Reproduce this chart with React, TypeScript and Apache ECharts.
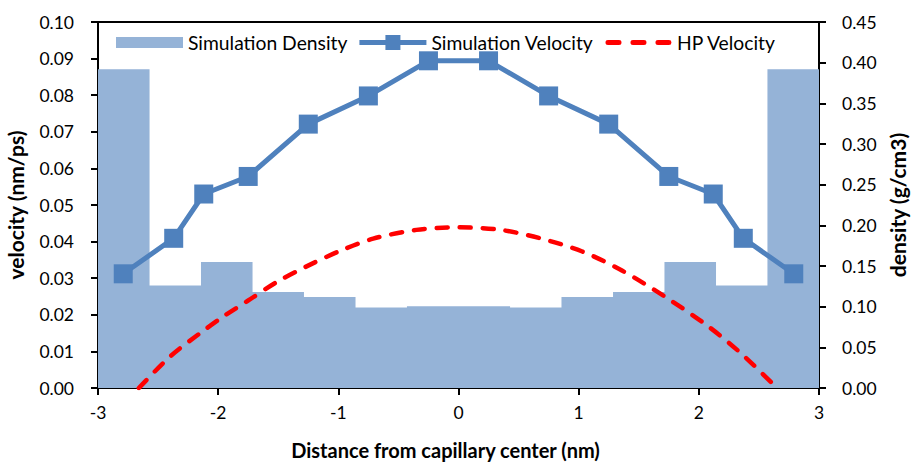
import React, { useEffect, useRef } from "react";
import * as echarts from "echarts";

// Simulation density: bins (left edge, value), last edge closes the final bin
const densityBinStart = [-3, -2.571, -2.143, -1.714, -1.286, -0.857, -0.429, 0, 0.429, 0.857, 1.286, 1.714, 2.143, 2.571];
const densityEnd = 3;
const densityValues = [0.392, 0.126, 0.155, 0.118, 0.112, 0.099, 0.1005, 0.1005, 0.099, 0.112, 0.118, 0.155, 0.126, 0.392];

// Simulation velocity
const velocityX = [-2.79, -2.37, -2.12, -1.75, -1.25, -0.75, -0.25, 0.25, 0.75, 1.25, 1.75, 2.12, 2.37, 2.79];
const velocityValues = [0.0312, 0.0409, 0.053, 0.0578, 0.0721, 0.0798, 0.0894, 0.0894, 0.0798, 0.0721, 0.0578, 0.053, 0.0409, 0.0312];

// HP velocity
const hpX = [-2.66, -2.4, -2.15, -1.95, -1.76, -1.51, -1.26, -0.99, -0.71, -0.35, 0, 0.35, 0.67, 1.03, 1.36, 1.72, 2.08, 2.36, 2.65];
const hpValues = [0, 0.0086, 0.015, 0.0197, 0.0237, 0.029, 0.0333, 0.0374, 0.0408, 0.0432, 0.0439, 0.0432, 0.041, 0.0373, 0.0321, 0.0249, 0.0168, 0.0092, 0];

const FONT = "Lato";
const BLUE = "#4F81BD";
const BAR = "#95B3D7";
const RED = "#FF0000";

export default function App() {
  const ref = useRef<HTMLDivElement>(null);
  useEffect(() => {
    if (!ref.current) return;
    const chart = echarts.init(ref.current, null, { renderer: "svg" });
    const densityData: [number, number][] = densityBinStart.map((x, i) => [x, densityValues[i]]);
    densityData.push([densityEnd, densityValues[densityValues.length - 1]]);

    const axisCommon = {
      axisLine: { show: true, onZero: false, lineStyle: { color: "#000", width: 2 } },
      axisTick: { show: true, inside: false, length: 7, lineStyle: { color: "#000", width: 2 } },
      splitLine: { show: false },
    };

    chart.setOption({
      animation: false,
      backgroundColor: "#fff",
      textStyle: { fontFamily: FONT },
      grid: {
        left: 98,
        right: 94,
        top: 22,
        bottom: 76,
        show: true,
        borderColor: "#000",
        borderWidth: 2,
        containLabel: false,
        outerBoundsMode: "none",
      },
      legend: {
        left: 111,
        top: 28,
        itemWidth: 67,
        itemHeight: 15,
        itemGap: 12,
        textStyle: { fontFamily: FONT, fontSize: 19.3, color: "#000" },
        data: [
          { name: "Simulation Density", icon: "path://M0,2 L67,2 L67,13 L0,13 Z" },
          {
            name: "Simulation Velocity",
            icon: "path://M0,5 L26,5 L26,0 L41,0 L41,5 L67,5 L67,10 L41,10 L41,15 L26,15 L26,10 L0,10 Z",
          },
          {
            name: "HP Velocity",
            icon:
              "path://M2.5,5 L13.5,5 A2.5,2.5 0 0 1 13.5,10 L2.5,10 A2.5,2.5 0 0 1 2.5,5 Z M27.5,5 L38.5,5 A2.5,2.5 0 0 1 38.5,10 L27.5,10 A2.5,2.5 0 0 1 27.5,5 Z M52.5,5 L63.5,5 A2.5,2.5 0 0 1 63.5,10 L52.5,10 A2.5,2.5 0 0 1 52.5,5 Z M0,0 L0,0.01 Z M66,15 L66,15.01 Z",
          },
        ],
      },
      xAxis: {
        type: "value",
        min: -3,
        max: 3,
        interval: 1,
        name: "Distance from capillary center (nm)",
        nameLocation: "middle",
        nameGap: 52,
        nameTextStyle: { fontFamily: FONT, fontSize: 20, fontWeight: "bold", color: "#000", padding: [0, 26, 0, 0] },
        ...axisCommon,
        axisLabel: { fontFamily: FONT, fontSize: 17.5, color: "#000", margin: 15 },
      },
      yAxis: [
        {
          type: "value",
          min: 0,
          max: 0.1,
          interval: 0.01,
          position: "left",
          name: "velocity (nm/ps)",
          nameLocation: "middle",
          nameRotate: 90,
          nameGap: 72,
          nameTextStyle: { fontFamily: FONT, fontSize: 21, fontWeight: "bold", color: "#000" },
          ...axisCommon,
          axisLabel: {
            fontFamily: FONT,
            fontSize: 17.5,
            color: "#000",
            margin: 24,
            formatter: (v: number) => v.toFixed(2),
          },
        },
        {
          type: "value",
          min: 0,
          max: 0.45,
          interval: 0.05,
          position: "right",
          name: "density (g/cm3)",
          nameLocation: "middle",
          nameRotate: 90,
          nameGap: 68,
          nameTextStyle: { fontFamily: FONT, fontSize: 21, fontWeight: "bold", color: "#000" },
          ...axisCommon,
          axisLabel: {
            fontFamily: FONT,
            fontSize: 17.5,
            color: "#000",
            margin: 23,
            formatter: (v: number) => v.toFixed(2),
          },
        },
      ],
      series: [
        {
          name: "Simulation Density",
          type: "line",
          yAxisIndex: 1,
          step: "end",
          data: densityData,
          symbol: "none",
          color: BAR,
          itemStyle: { color: BAR },
          lineStyle: { width: 0, color: BAR },
          areaStyle: { color: BAR, opacity: 1 },
          z: 1,
        },
        {
          name: "HP Velocity",
          type: "line",
          yAxisIndex: 0,
          data: hpX.map((x, i) => [x, hpValues[i]]),
          smooth: 0.3,
          symbol: "none",
          color: RED,
          itemStyle: { color: RED },
          lineStyle: { color: RED, width: 4.5, type: [11, 12], cap: "round" },
          z: 2,
        },
        {
          name: "Simulation Velocity",
          type: "line",
          yAxisIndex: 0,
          data: velocityX.map((x, i) => [x, velocityValues[i]]),
          symbol: "rect",
          symbolSize: 19,
          color: BLUE,
          itemStyle: { color: BLUE },
          lineStyle: { color: BLUE, width: 5 },
          z: 3,
        },
      ],
    });
    return () => chart.dispose();
  }, []);
  return (
    <div
      ref={ref}
      style={{ position: "fixed", left: 0, top: 0, width: 913, height: 464, background: "#fff" }}
    />
  );
}
